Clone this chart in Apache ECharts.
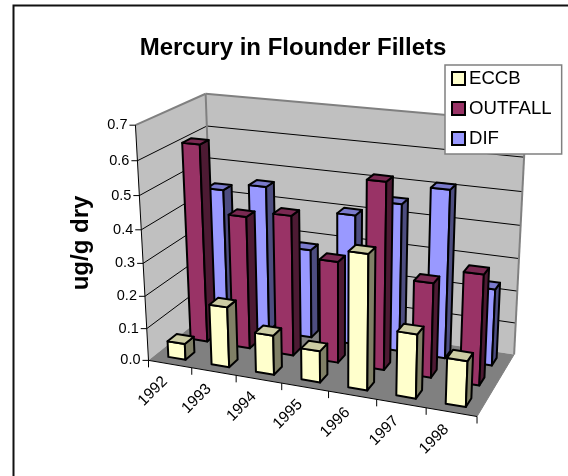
<!DOCTYPE html>
<html><head><meta charset="utf-8">
<style>html,body{margin:0;padding:0;background:#fff}#c{width:568px;height:476px}</style>
<script src="https://cdn.jsdelivr.net/npm/echarts@6/dist/echarts.min.js"></script>
</head><body><div id="c"></div>
<script>
const categories = ['1992','1993','1994','1995','1996','1997','1998'];
const eccb    = [0.05,0.185,0.12,0.095,0.40,0.19,0.135];
const outfall = [0.61,0.41,0.43,0.31,0.56,0.285,0.33];
const dif     = [0.435,0.46,0.28,0.405,0.455,0.513,0.235];
const yTicks  = ['0.0','0.1','0.2','0.3','0.4','0.5','0.6','0.7'];

// Perspective of the 3D box: unit box corners (u,v,d) to page pixels
const corners = [
 [0,0,0,148,361],[1,0,0,477,416],[1,0,1,514,355],[0,0,1,214,308],
 [0,1,0,136,125],[0,1,1,205,94],[1,1,1,526,122]
];
function solveCamera(pts){
  const n=11, A=[], b=[];
  pts.forEach(([u,v,d,x,y])=>{
    A.push([u,v,d,1,0,0,0,0,-x*u,-x*v,-x*d]); b.push(x);
    A.push([0,0,0,0,u,v,d,1,-y*u,-y*v,-y*d]); b.push(y);
  });
  const M=[];
  for(let i=0;i<n;i++){M.push([]);for(let j=0;j<=n;j++){let s=0;
    for(let r=0;r<A.length;r++) s+=A[r][i]*(j<n?A[r][j]:b[r]);
    M[i].push(s);}}
  for(let i=0;i<n;i++){let p=i;
    for(let r=i+1;r<n;r++) if(Math.abs(M[r][i])>Math.abs(M[p][i])) p=r;
    [M[i],M[p]]=[M[p],M[i]];
    for(let r=0;r<n;r++){ if(r===i) continue; const f=M[r][i]/M[i][i];
      for(let j=i;j<=n;j++) M[r][j]-=f*M[i][j]; }}
  return M.map((row,i)=>row[n]/row[i]);
}
const P = solveCamera(corners);
function project(u,v,d){
  const w=P[8]*u+P[9]*v+P[10]*d+1;
  return [(P[0]*u+P[1]*v+P[2]*d+P[3])/w,(P[4]*u+P[5]*v+P[6]*d+P[7])/w];
}
const BAR=0.4;
const black='#000';
function norm(params,api,cat,val){
  const cs=params.coordSys, c=api.coord([cat,val]);
  return {u:(c[0]-cs.x)/cs.width, v:(cs.y+cs.height-c[1])/cs.height, du:api.size([1,0])[0]/cs.width};
}
function poly(points,fill,lw){
  return {type:'polygon',shape:{points},style:{fill,stroke:black,lineWidth:lw==null?2:lw,lineJoin:'round'}};
}
function barSeries(name,values,slot,face,top,side){
  return {
    type:'custom',name,coordinateSystem:'cartesian2d',z:5+(2-slot),clip:false,
    itemStyle:{color:face,borderColor:black,borderWidth:2},
    data:values.map((v,i)=>[categories[i],v]),
    renderItem(params,api){
      const n=norm(params,api,api.value(0),api.value(1));
      const hw=n.du*BAR/2, u0=n.u-hw, u1=n.u+hw;
      const dc=(slot+0.5)/3, hd=BAR/6, d0=dc-hd, d1=dc+hd, t=n.v;
      return {type:'group',children:[
        poly([project(u0,0,d0),project(u1,0,d0),project(u1,t,d0),project(u0,t,d0)],face),
        poly([project(u1,0,d0),project(u1,0,d1),project(u1,t,d1),project(u1,t,d0)],side),
        poly([project(u0,t,d0),project(u1,t,d0),project(u1,t,d1),project(u0,t,d1)],top)
      ]};
    }
  };
}
const frameSeries={
  type:'custom',name:'box',coordinateSystem:'cartesian2d',z:1,clip:false,silent:true,
  data:[[categories[0],0]],
  renderItem(params,api){
    const ch=[], cs=params.coordSys, gray='#808080';
    const line=(a,b,col,lw)=>ch.push({type:'line',shape:{x1:a[0],y1:a[1],x2:b[0],y2:b[1]},style:{stroke:col,lineWidth:lw,fill:null}});
    const wall=(pts,fill)=>ch.push({type:'polygon',shape:{points:pts},style:{fill,stroke:null}});
    wall([project(0,0,1),project(1,0,1),project(1,1,1),project(0,1,1)],'#C0C0C0');
    wall([project(0,0,0),project(0,0,1),project(0,1,1),project(0,1,0)],'#C0C0C0');
    wall([project(0,0,0),project(1,0,0),project(1,0,1),project(0,0,1)],'#808080');
    yTicks.forEach((t,i)=>{
      const v=norm(params,api,categories[0],parseFloat(t)).v;
      if(i>0&&i<yTicks.length-1){
        line(project(0,v,0),project(0,v,1),'#000',1);
        line(project(0,v,1),project(1,v,1),'#000',1);
      }
    });
    line(project(0,1,0),project(0,1,1),gray,2);
    line(project(0,1,1),project(1,1,1),gray,2);
    line(project(0,0,1),project(0,1,1),gray,2);
    line(project(1,0,1),project(1,1,1),gray,2);
    line(project(1,0,0),project(1,0,1),gray,1);
    line(project(0,0,0),project(0,1,0),'#000',1);
    line(project(0,0,0),project(1,0,0),'#000',1);
    yTicks.forEach(t=>{
      const v=norm(params,api,categories[0],parseFloat(t)).v, p=project(0,v,0);
      line(p,[p[0]-6,p[1]],'#000',1);
      ch.push({type:'text',x:p[0]-8,y:p[1],style:{text:t,fill:'#000',font:'14.5px "Liberation Sans"',align:'right',verticalAlign:'middle'}});
    });
    const du=api.size([1,0])[0]/cs.width;
    for(let i=0;i<=categories.length;i++){
      const p=project(i*du,0,0); line(p,[p[0],p[1]+7],'#000',1);
    }
    categories.forEach((c,i)=>{
      const p=project((i+0.5)*du,0,0);
      ch.push({type:'text',x:p[0]-5,y:p[1]+15,rotation:Math.PI/4,style:{text:c,fill:'#000',font:'15.5px "Liberation Sans"',align:'right',verticalAlign:'middle'}});
    });
    return {type:'group',children:ch};
  }
};
const chart=echarts.init(document.getElementById('c'),null,{renderer:'canvas'});
chart.setOption({
  animation:false,backgroundColor:'#fff',
  title:{text:'Mercury in Flounder Fillets',left:288,top:31,textAlign:'center',
    textStyle:{fontFamily:'"Liberation Sans"',fontSize:24,fontWeight:'bold',color:'#000'}},
  legend:{data:['ECCB','OUTFALL','DIF'],orient:'vertical',left:445,top:65,
    backgroundColor:'#fff',borderColor:'#808080',borderWidth:1.5,padding:[4,10,6,6],
    itemWidth:13,itemHeight:13,itemGap:11,icon:'rect',selectedMode:false,z:20,
    textStyle:{fontFamily:'"Liberation Sans"',fontSize:18.6,color:'#000',padding:[0,0,0,-1]}},
  grid:{left:100,right:100,top:100,bottom:100,show:false},
  xAxis:{type:'category',data:categories,show:false},
  yAxis:{type:'value',min:0,max:0.7,interval:0.1,show:false},
  graphic:[
    {type:'rect',shape:{x:13.5,y:5.5,width:700,height:700},style:{fill:null,stroke:'#111',lineWidth:2},z:0,silent:true},
    {type:'text',x:81,y:243,rotation:Math.PI/2,style:{text:'ug/g dry',fill:'#000',font:'bold 24px "Liberation Sans"',align:'center',verticalAlign:'middle'},z:10,silent:true}
  ],
  series:[
    frameSeries,
    barSeries('DIF',dif,2,'#9999FF','#7A7ACC','#4D4D80'),
    barSeries('OUTFALL',outfall,1,'#993366','#7A2952','#4D1A33'),
    barSeries('ECCB',eccb,0,'#FFFFCC','#CCCCA3','#808066')
  ]
});
</script></body></html>
